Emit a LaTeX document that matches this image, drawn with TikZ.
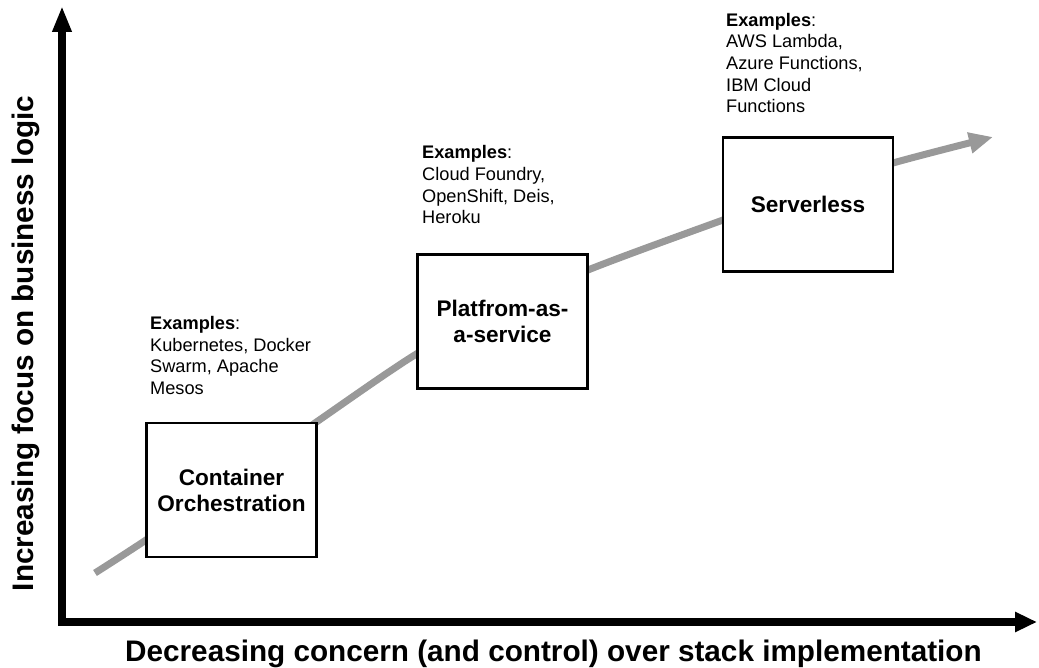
\documentclass[tikz,border=0pt]{standalone}
\usepackage{fontspec}
\setmainfont{Liberation Sans}
\usetikzlibrary{arrows.meta}
\definecolor{trendgray}{RGB}{153,153,153}
\tikzset{
  axis/.style={line width=7.5pt, line join=miter,
    {Triangle[length=26pt,width=18pt]}-{Triangle[length=22pt,width=19pt]}},
  trend/.style={draw=trendgray, line width=7pt,
    -{Triangle[length=24pt,width=20pt]}},
  stage/.style={draw=black, fill=white, line width=2.4pt, inner sep=0pt,
    minimum width=170pt, minimum height=134pt, align=center,
    font=\bfseries\fontsize{22.6}{26}\selectfont},
  examples/.style={anchor=north west, inner sep=0pt, align=left,
    font=\fontsize{18.2}{21.6}\selectfont},
  axislabel/.style={inner sep=0pt, font=\bfseries\fontsize{29.7}{34}\selectfont}
}
\begin{document}
\begin{tikzpicture}[x=1pt,y=-1pt]
  \useasboundingbox (0,0) rectangle (1039,668);

  % axes
  \coordinate (origin) at (62,622);
  \coordinate (ytip) at (62,6);
  \coordinate (xtip) at (1037,622);
  \draw[axis] (ytip) -- (origin) -- (xtip);

  % trend curve (drawn first, the stage boxes cover it)
  \coordinate (t0) at (95,573);
  \coordinate (t1) at (146,540);
  \coordinate (t2) at (231,482);
  \coordinate (t3) at (315,423);
  \coordinate (t4) at (418,353);
  \coordinate (t5) at (503,309);
  \coordinate (t6) at (588,270);
  \coordinate (t7) at (723,220);
  \coordinate (t8) at (808,190);
  \coordinate (t9) at (893,163);
  \coordinate (t10) at (993,137);
  \draw[trend] plot[smooth, tension=0.5] coordinates
    {(t0) (t1) (t2) (t3) (t4) (t5) (t6) (t7) (t8) (t9) (t10)};

  % stages
  \node[stage] (co) at (231.5,490) {Container\\Orchestration};
  \node[stage] (paas) at (502.5,321.5) {Platfrom-as-\\a-service};
  \node[stage] (sls) at (808,204.5) {Serverless};

  % examples
  \node[examples] (exco) at (150,316.3)
    {\textbf{Examples}:\\Kubernetes, Docker\\Swarm, Apache\\Mesos};
  \node[examples] (expaas) at (422,145.5)
    {\textbf{Examples}:\\Cloud Foundry,\\OpenShift, Deis,\\Heroku};
  \node[examples] (exsls) at (726,13)
    {\textbf{Examples}:\\AWS Lambda,\\Azure Functions,\\IBM Cloud\\Functions};

  % axis labels
  \node[axislabel, anchor=base] (xlabel) at (553.5,661)
    {Decreasing concern (and control) over stack implementation};
  \node[axislabel, anchor=base, rotate=90] (ylabel) at (34,343.5)
    {Increasing focus on business logic};
\end{tikzpicture}
\end{document}
